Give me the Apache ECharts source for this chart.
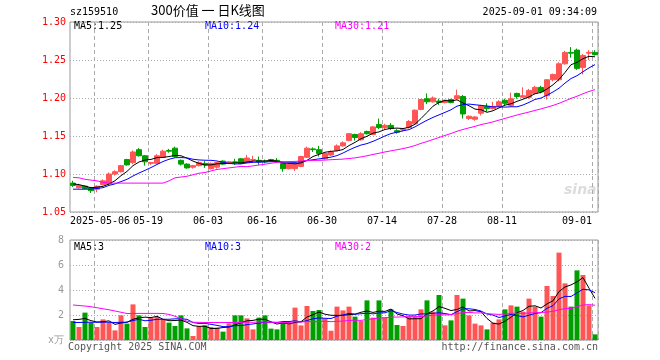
<!DOCTYPE html>
<html>
<head>
<meta charset="utf-8">
<script src="https://cdn.jsdelivr.net/npm/echarts@6/dist/echarts.min.js"></script>
<style>html,body{margin:0;padding:0;background:#fff}#c{width:660px;height:360px}</style>
</head>
<body>
<div id="c"></div>
<script>
const dates = ['2025-04-25','2025-04-28','2025-04-29','2025-04-30','2025-05-06','2025-05-07','2025-05-08','2025-05-09','2025-05-12','2025-05-13',
'2025-05-14','2025-05-15','2025-05-16','2025-05-19','2025-05-20','2025-05-21','2025-05-22','2025-05-23','2025-05-26','2025-05-27',
'2025-05-28','2025-05-29','2025-05-30','2025-06-03','2025-06-04','2025-06-05','2025-06-06','2025-06-09','2025-06-10','2025-06-11',
'2025-06-12','2025-06-13','2025-06-16','2025-06-17','2025-06-18','2025-06-19','2025-06-20','2025-06-23','2025-06-24','2025-06-25',
'2025-06-26','2025-06-27','2025-06-30','2025-07-01','2025-07-02','2025-07-03','2025-07-04','2025-07-07','2025-07-08','2025-07-09',
'2025-07-10','2025-07-11','2025-07-14','2025-07-15','2025-07-16','2025-07-17','2025-07-18','2025-07-21','2025-07-22','2025-07-23',
'2025-07-24','2025-07-25','2025-07-28','2025-07-29','2025-07-30','2025-07-31','2025-08-01','2025-08-04','2025-08-05','2025-08-06',
'2025-08-07','2025-08-08','2025-08-11','2025-08-12','2025-08-13','2025-08-14','2025-08-15','2025-08-18','2025-08-19','2025-08-20',
'2025-08-21','2025-08-22','2025-08-25','2025-08-26','2025-08-27','2025-08-28','2025-08-29','2025-09-01'];

const opens = [1.088,1.082,1.084,1.082,1.080,1.086,1.087,1.100,1.103,1.119,
1.115,1.132,1.124,1.114,1.114,1.122,1.131,1.134,1.118,1.113,
1.109,1.111,1.114,1.107,1.109,1.117,1.114,1.116,1.120,1.115,
1.118,1.118,1.117,1.119,1.118,1.114,1.107,1.107,1.110,1.122,
1.133,1.132,1.120,1.125,1.131,1.137,1.144,1.152,1.145,1.156,
1.152,1.165,1.161,1.164,1.157,1.158,1.161,1.166,1.185,1.199,
1.195,1.196,1.194,1.198,1.199,1.202,1.173,1.172,1.180,1.189,
1.186,1.189,1.197,1.190,1.206,1.201,1.201,1.206,1.214,1.203,
1.224,1.224,1.245,1.260,1.263,1.240,1.259,1.260];
const closes = [1.085,1.085,1.081,1.078,1.084,1.091,1.100,1.103,1.111,1.112,
1.129,1.124,1.116,1.115,1.124,1.130,1.130,1.123,1.113,1.108,
1.111,1.115,1.112,1.114,1.115,1.113,1.116,1.115,1.114,1.121,
1.119,1.116,1.116,1.117,1.117,1.107,1.113,1.113,1.123,1.134,
1.132,1.127,1.127,1.129,1.137,1.141,1.153,1.148,1.153,1.153,
1.162,1.161,1.164,1.160,1.155,1.159,1.169,1.184,1.198,1.195,
1.200,1.194,1.197,1.194,1.203,1.179,1.176,1.175,1.190,1.186,
1.189,1.195,1.193,1.199,1.202,1.203,1.210,1.214,1.208,1.224,
1.231,1.245,1.260,1.259,1.239,1.256,1.260,1.257];
const lows = [1.083,1.081,1.080,1.075,1.076,1.085,1.086,1.098,1.102,1.111,
1.113,1.123,1.111,1.112,1.113,1.121,1.128,1.122,1.111,1.107,
1.107,1.110,1.108,1.106,1.107,1.112,1.113,1.112,1.113,1.114,
1.115,1.112,1.114,1.116,1.115,1.103,1.106,1.104,1.109,1.121,
1.129,1.123,1.119,1.124,1.130,1.136,1.143,1.144,1.144,1.152,
1.151,1.159,1.159,1.158,1.153,1.156,1.160,1.165,1.184,1.192,
1.194,1.191,1.193,1.193,1.198,1.173,1.171,1.170,1.177,1.182,
1.185,1.188,1.190,1.189,1.199,1.200,1.199,1.205,1.206,1.198,
1.222,1.222,1.244,1.253,1.237,1.231,1.250,1.256];
const highs = [1.091,1.087,1.085,1.083,1.085,1.093,1.102,1.105,1.112,1.120,
1.131,1.134,1.125,1.116,1.126,1.132,1.133,1.136,1.119,1.114,
1.112,1.117,1.117,1.115,1.116,1.118,1.117,1.120,1.121,1.125,
1.124,1.123,1.119,1.120,1.121,1.115,1.115,1.114,1.124,1.136,
1.135,1.137,1.128,1.131,1.139,1.143,1.154,1.153,1.155,1.157,
1.163,1.173,1.166,1.167,1.159,1.160,1.171,1.185,1.199,1.206,
1.202,1.199,1.198,1.199,1.211,1.204,1.177,1.176,1.191,1.193,
1.195,1.197,1.199,1.207,1.207,1.214,1.212,1.216,1.216,1.225,
1.232,1.247,1.262,1.267,1.265,1.258,1.263,1.263];

// volume in 万 (10k units)
const volumes = [1.52,1.04,2.19,1.39,1.04,1.65,1.39,0.77,1.97,1.31,
2.85,1.97,1.04,1.79,1.84,1.65,1.39,1.12,1.97,0.93,
0.32,1.12,1.17,1.04,0.99,0.67,1.33,1.97,1.97,1.73,
0.85,1.79,1.97,0.91,0.85,1.39,1.31,2.59,1.17,2.72,
2.32,2.40,1.71,0.74,2.67,2.37,2.67,1.87,1.52,3.17,
1.79,3.17,1.79,2.45,1.20,1.12,1.87,1.87,2.45,3.17,
2.27,3.60,1.17,1.57,3.60,3.31,1.97,1.31,1.17,0.85,
1.39,1.65,2.45,2.77,2.67,2.27,3.31,2.67,1.87,4.32,
3.52,6.99,4.53,2.67,5.57,5.20,2.77,0.45];

// moving-average values at the start of the window (their earlier days are off-chart)
const priceMa5Head = [1.087,1.086,1.084,1.082];
const priceMa10Head = [1.080,1.080,1.080,1.080,1.081,1.082,1.085,1.087,1.090];
const priceMa30Head = [1.0955,1.095,1.093,1.092,1.091,1.089,1.088,1.088,1.088,1.088,
1.088,1.088,1.088,1.088,1.088,1.088,1.091,1.095,1.096,1.097,
1.099,1.101,1.102,1.104,1.106,1.107,1.108,1.109,1.110];
const volMa5Head = [1.62,1.65,1.72,1.55];
const volMa10Head = [1.40,1.40,1.42,1.42,1.42,1.43,1.42,1.40,1.42];
const volMa30Head = [2.80,2.76,2.72,2.66,2.58,2.50,2.42,2.32,2.22,2.12,
2.12,2.13,2.13,2.13,2.13,2.12,2.05,1.90,1.70,1.50,
1.42,1.41,1.40,1.40,1.40,1.40,1.40,1.40,1.40];

const labelDates = ['2025-05-06','2025-05-19','2025-06-03','2025-06-16','2025-06-30','2025-07-14','2025-07-28','2025-08-11','2025-09-01'];

const UP = '#ff5555', DOWN = '#009f00';
const MONO = 'DejaVu Sans Mono';

function movingAvg(arr, n, head) {
  return arr.map((v, i) => {
    if (i < n - 1) return head[i];
    let s = 0;
    for (let k = i - n + 1; k <= i; k++) s += arr[k];
    return +(s / n).toFixed(4);
  });
}
const pMa5 = movingAvg(closes, 5, priceMa5Head);
const pMa10 = movingAvg(closes, 10, priceMa10Head);
const pMa30 = movingAvg(closes, 30, priceMa30Head);
const vMa5 = movingAvg(volumes, 5, volMa5Head);
const vMa10 = movingAvg(volumes, 10, volMa10Head);
const vMa30 = movingAvg(volumes, 30, volMa30Head);

const labelIdx = new Set(labelDates.map(d => dates.indexOf(d)));
const firstLabel = dates.indexOf(labelDates[0]);
const lastLabel = dates.indexOf(labelDates[labelDates.length - 1]);

const kData = dates.map((d, i) => [opens[i], closes[i], lows[i], highs[i]]);
const volData = volumes.map((v, i) => ({value: v, itemStyle: {color: closes[i] >= opens[i] ? UP : DOWN}}));

const last = a => a[a.length - 1];

const chart = echarts.init(document.getElementById('c'), null, {renderer: 'canvas'});
const dashV = {show: true, interval: (i) => labelIdx.has(i), lineStyle: {color: '#aaa', type: [4, 3], width: 1}};
const dotH = {show: true, lineStyle: {color: '#aaa', type: [1, 2], width: 1}};
const txt = (left, top, text, fill) => ({type: 'text', left, top, style: {text, fill, font: '10px "' + MONO + '"'}});

chart.setOption({
  animation: false,
  backgroundColor: '#fff',
  grid: [
    {left: 70, right: 62, top: 22, bottom: 148, show: true, borderColor: '#999', borderWidth: 1},
    {left: 70, right: 62, top: 240, bottom: 20, show: true, borderColor: '#999', borderWidth: 1}
  ],
  xAxis: [
    {type: 'category', gridIndex: 0, data: dates, boundaryGap: true,
     axisLine: {show: false}, axisTick: {show: false}, splitLine: dashV,
     axisLabel: {
       interval: (i) => labelIdx.has(i), margin: 4,
       formatter: (v, i) => {
         const s = i === firstLabel ? v : v.slice(5);
         const key = i === firstLabel ? 'f' : (i === lastLabel ? 'l' : 'n');
         return '{' + key + '|' + s + '}';
       },
       rich: {
         n: {fontFamily: MONO, fontSize: 10, color: '#000', padding: [0, 6, 0, 0]},
         f: {fontFamily: MONO, fontSize: 10, color: '#000', padding: [0, 0, 0, 6]},
         l: {fontFamily: MONO, fontSize: 10, color: '#000', padding: [0, 36, 0, 0]}
       }
     }},
    {type: 'category', gridIndex: 1, data: dates, boundaryGap: true,
     axisLine: {show: false}, axisTick: {show: false}, axisLabel: {show: false}, splitLine: dashV}
  ],
  yAxis: [
    {type: 'value', gridIndex: 0, min: 1.05, max: 1.30, interval: 0.05,
     axisLine: {show: false}, axisTick: {show: false}, splitLine: dotH,
     axisLabel: {color: '#ff0000', fontFamily: MONO, fontSize: 10, margin: 4, formatter: v => v.toFixed(2)}},
    {type: 'value', gridIndex: 1, min: 0, max: 8, interval: 2,
     axisLine: {show: false}, axisTick: {show: false}, splitLine: dotH,
     axisLabel: {color: '#999', fontFamily: MONO, fontSize: 10, margin: 6, formatter: v => v === 0 ? 'x万' : String(v)}}
  ],
  series: [
    {type: 'candlestick', xAxisIndex: 0, yAxisIndex: 0, data: kData, barWidth: 5,
     itemStyle: {color: UP, color0: DOWN, borderColor: UP, borderColor0: DOWN, borderWidth: 1}},
    {type: 'line', xAxisIndex: 0, yAxisIndex: 0, data: pMa5, symbol: 'none', lineStyle: {color: '#000', width: 1}, z: 5},
    {type: 'line', xAxisIndex: 0, yAxisIndex: 0, data: pMa10, symbol: 'none', lineStyle: {color: '#0000ff', width: 1}, z: 5},
    {type: 'line', xAxisIndex: 0, yAxisIndex: 0, data: pMa30, symbol: 'none', lineStyle: {color: '#ff00ff', width: 1}, z: 5},
    {type: 'bar', xAxisIndex: 1, yAxisIndex: 1, data: volData, barWidth: 5},
    {type: 'line', xAxisIndex: 1, yAxisIndex: 1, data: vMa5, symbol: 'none', lineStyle: {color: '#000', width: 1}, z: 5},
    {type: 'line', xAxisIndex: 1, yAxisIndex: 1, data: vMa10, symbol: 'none', lineStyle: {color: '#0000ff', width: 1}, z: 5},
    {type: 'line', xAxisIndex: 1, yAxisIndex: 1, data: vMa30, symbol: 'none', lineStyle: {color: '#ff00ff', width: 1}, z: 5}
  ],
  graphic: [
    txt(70, 7, 'sz159510', '#000'),
    {type: 'text', left: 151, top: 4, style: {text: '300价值 一 日K线图', fill: '#000', font: '13px "Noto Sans CJK SC"'}},
    {type: 'text', right: 63, top: 7, style: {text: '2025-09-01 09:34:09', fill: '#000', font: '10px "' + MONO + '"'}},
    txt(74, 21, 'MA5:' + last(pMa5).toFixed(2), '#000'),
    txt(205, 21, 'MA10:' + last(pMa10).toFixed(2), '#0000ff'),
    txt(335, 21, 'MA30:' + last(pMa30).toFixed(2), '#ff00ff'),
    txt(74, 242, 'MA5:' + Math.floor(last(vMa5)), '#000'),
    txt(205, 242, 'MA10:' + Math.floor(last(vMa10)), '#0000ff'),
    txt(335, 242, 'MA30:' + Math.floor(last(vMa30)), '#ff00ff'),
    txt(68, 342, 'Copyright 2025 SINA.COM', '#555'),
    {type: 'text', right: 62, top: 342, style: {text: 'http://finance.sina.com.cn', fill: '#555', font: '10px "' + MONO + '"'}},
    {type: 'text', left: 564, top: 183, z: 0, style: {text: 'sina', fill: '#dcdcdc', font: 'italic bold 14px "DejaVu Sans"'}}
  ]
});
</script>
</body>
</html>
